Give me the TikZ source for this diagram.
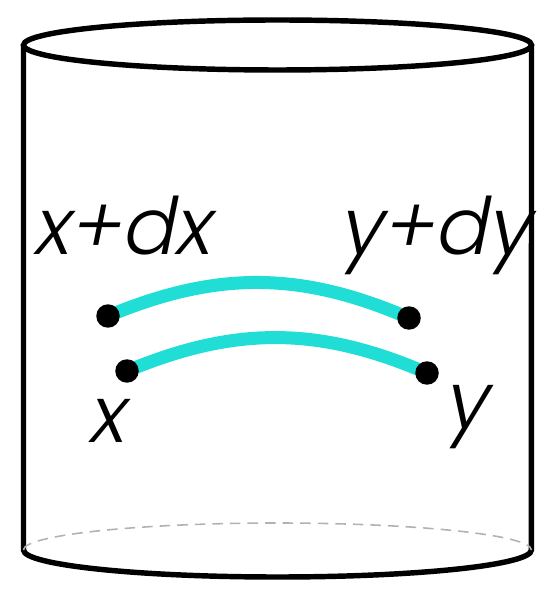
\documentclass[tikz,border=0pt]{standalone}
\usepackage{fontspec}
\usepackage{xcolor}
\usepackage{tikz}
\usetikzlibrary{positioning,calc}
\newfontfamily\lblfont{Poppins Light}[FakeSlant=0.2]
\definecolor{flowcyan}{RGB}{32,221,214}

\begin{document}
\begin{tikzpicture}[
    x=0.02cm, y=-0.02cm,
    rim/.style={draw=black, line width=3.1pt},
    back/.style={draw=black!30, line width=0.9pt, dash pattern=on 6pt off 4pt},
    flow/.style={draw=flowcyan, line width=7.4pt},
    dot/.style={circle, fill=black, inner sep=0pt, minimum size=0.47cm},
    lbl/.style={font=\lblfont\fontsize{45}{48}\selectfont, anchor=base, inner sep=0pt}
]
    \useasboundingbox (0,0) rectangle (556,597);

    % cylinder
    \draw [rim] (277.5,45) ellipse [x radius=5.08cm, y radius=0.5cm];
    \draw [rim] (23.5,45) -- (23.5,550) arc [start angle=180, end angle=360, x radius=5.08cm, y radius=0.54cm] -- (531.5,45);
    \draw [back] (23.5,550) arc [start angle=180, end angle=0, x radius=5.08cm, y radius=0.54cm];

    % end points
    \coordinate (xdx) at (108,316);
    \coordinate (ydy) at (409,318);
    \coordinate (xx) at (127,371);
    \coordinate (yy) at (427,373);

    \draw [flow] (xdx) to[bend left=23] (ydy);
    \draw [flow] (xx) to[bend left=23] (yy);

    \node [dot] (p1) at (xdx) {};
    \node [dot] (p2) at (ydy) {};
    \node [dot] (p3) at (xx) {};
    \node [dot] (p4) at (yy) {};

    \node [lbl] (lxdx) at (121,255) {x+dx};
    \node [lbl] (lydy) at (434,255) {y+dy};
    \node [lbl] (lx) at (106,442) {x};
    \node [lbl] (ly) at (465,428) {y};
\end{tikzpicture}
\end{document}
